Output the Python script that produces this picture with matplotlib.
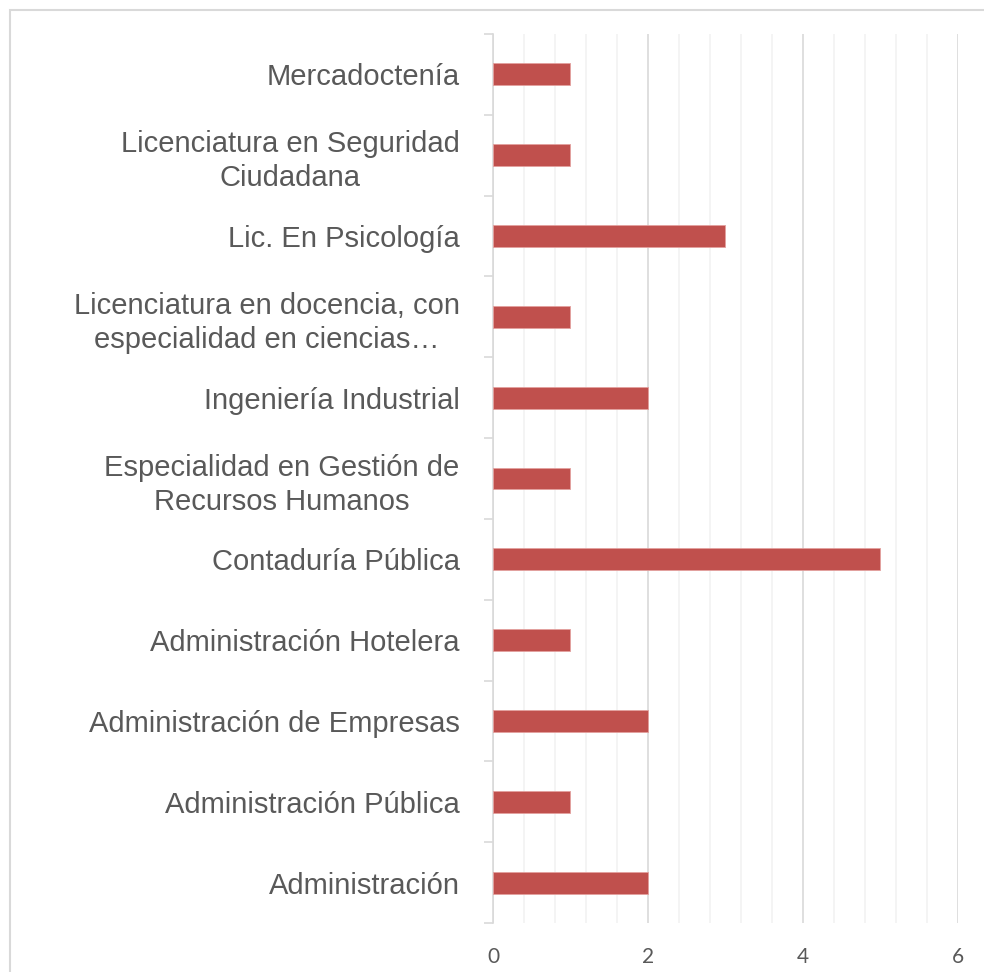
import matplotlib.pyplot as plt
import numpy as np
from matplotlib.patches import Rectangle
from matplotlib.ticker import MultipleLocator, FixedLocator

# carreras, listed bottom to top as they appear on the axis
carreras = [
    'Administración',
    'Administración Pública',
    'Administración de Empresas',
    'Administración Hotelera',
    'Contaduría Pública',
    'Especialidad en Gestión de\nRecursos Humanos',
    'Ingeniería Industrial',
    'Licenciatura en docencia, con\nespecialidad en ciencias…',
    'Lic. En Psicología',
    'Licenciatura en Seguridad\nCiudadana',
    'Mercadoctenía',
]
cantidad = [2, 1, 2, 1, 5, 1, 2, 1, 3, 1, 1]
x_ticks = [0, 2, 4, 6]

W, H = 984, 972
fig = plt.figure(figsize=(W / 100, H / 100), dpi=100)
ax = fig.add_axes([493 / W, 1 - 923 / H, (958 - 493) / W, (923 - 34) / H])

pos = np.arange(len(carreras))
ax.barh(pos, cantidad, height=0.27, color='#C0504D', edgecolor='#E3A09E',
        linewidth=0.6, zorder=3)

ax.set_xlim(0, 6)
ax.set_ylim(-0.5, len(carreras) - 0.5)

# gridlines: light minor every 0.4, darker major every 2
ax.xaxis.set_major_locator(FixedLocator(x_ticks))
ax.xaxis.set_minor_locator(MultipleLocator(0.4))
ax.grid(axis='x', which='major', color='#D9D9D9', linewidth=1.2, zorder=0)
ax.grid(axis='x', which='minor', color='#F2F2F2', linewidth=1.2, zorder=0)
ax.tick_params(axis='x', which='both', length=0, pad=17)
ax.set_xticks(x_ticks)
ax.set_xticklabels([str(v) for v in x_ticks], fontsize=15, color='#595959',
                   family=['Lato', 'DejaVu Sans'])

# category labels centred on bars, tick marks on the boundaries
ax.set_yticks(pos)
ax.set_yticklabels(carreras, fontsize=21, color='#595959',
                   family=['Liberation Sans', 'DejaVu Sans'],
                   multialignment='center', linespacing=1.28)
ax.yaxis.set_minor_locator(FixedLocator(np.arange(-0.5, len(carreras), 1)))
ax.tick_params(axis='y', which='major', length=0, pad=24)
ax.tick_params(axis='y', which='minor', length=6.5, color='#D9D9D9', width=1.2)

for side in ['top', 'right', 'bottom']:
    ax.spines[side].set_visible(False)
ax.spines['left'].set_color('#D9D9D9')
ax.spines['left'].set_linewidth(1.2)

# chart area border
fig.patches.append(Rectangle((9.5 / W, -0.1), 1.2, 1 - 9.5 / H + 0.1,
                             transform=fig.transFigure, fill=False,
                             edgecolor='#D9D9D9', linewidth=1.5))

fig.savefig('out.png', dpi=100)
